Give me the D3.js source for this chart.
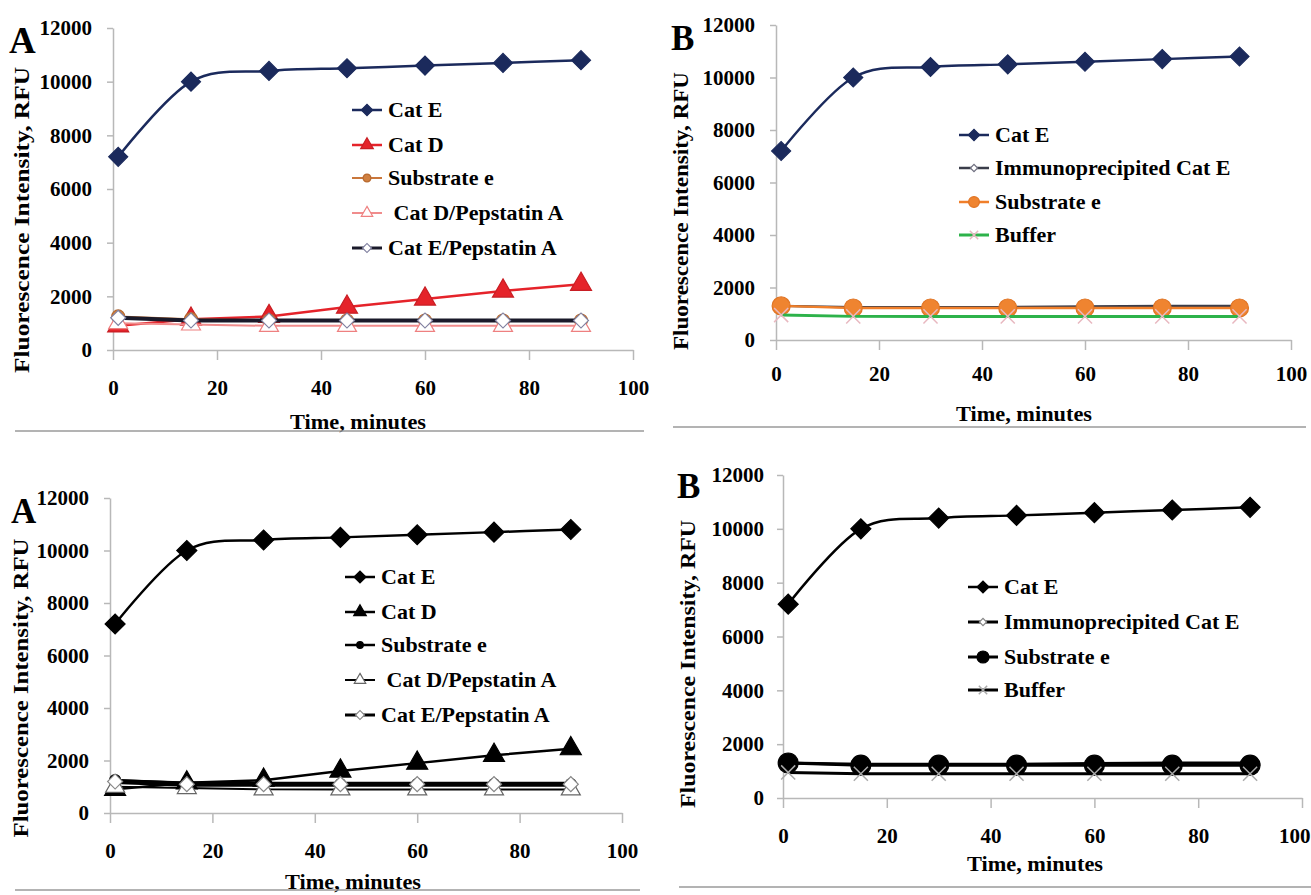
<!DOCTYPE html>
<html>
<head>
<meta charset="utf-8">
<style>
  body { margin: 0; background: #ffffff; }
  svg { display: block; font-family: "Liberation Serif", "Times New Roman", serif; font-weight: bold; }
  text { white-space: pre; }
</style>
<script src="https://d3js.org/d3.v7.min.js"></script>
</head>
<body>
<svg id="fig" width="1311" height="895"></svg>
<script>
// ---- data ----
const times = [1, 15, 30, 45, 60, 75, 90];
const xTicks = [0, 20, 40, 60, 80, 100];
const yTicks = [0, 2000, 4000, 6000, 8000, 10000, 12000];

const catE       = [7200, 10000, 10400, 10500, 10600, 10700, 10800];
const catD       = [900, 1150, 1250, 1600, 1900, 2200, 2450];
const substrateA = [1250, 1150, 1100, 1100, 1100, 1100, 1100];
const catDPep    = [1000, 950, 900, 900, 900, 900, 900];
const catEPep    = [1200, 1100, 1100, 1100, 1100, 1100, 1100];

const immunoCatE = [1300, 1250, 1250, 1250, 1280, 1300, 1300];
const substrateB = [1300, 1220, 1220, 1220, 1220, 1220, 1220];
const buffer     = [950, 900, 900, 900, 900, 900, 900];

const namesA = ["Cat E", "Cat D", "Substrate e", " Cat D/Pepstatin A", "Cat E/Pepstatin A"];
const namesB = ["Cat E", "Immunoprecipited Cat E", "Substrate e", "Buffer"];

const yTitle = "Fluorescence Intensity, RFU";
const xTitle = "Time, minutes";

let svg = d3.select("#fig");

function symbolPath(type, size) {
  if (type === "diamond") return d3.symbol(d3.symbolSquare, size * size / 2)();
  if (type === "triangle") return d3.symbol(d3.symbolTriangle, Math.sqrt(3) / 4 * size * size)();
  if (type === "circle") return d3.symbol(d3.symbolCircle, Math.PI * size * size / 4)();
  if (type === "x") return d3.symbol(d3.symbolX, size * size / 2.2)();
  return null;
}

function drawMarkers(g, s, pts, scale) {
  g.selectAll(null).data(pts).join("path")
    .attr("transform", d => `translate(${d[0]},${d[1]})` + (s.marker === "diamond" ? " rotate(45)" : ""))
    .attr("d", symbolPath(s.marker, s.size * scale))
    .attr("fill", s.marker === "x" ? "none" : s.fill)
    .attr("stroke", s.mstroke)
    .attr("stroke-width", s.marker === "x" ? 1.5 : 1.2);
}

function drawPanel(p) {
  let x = d3.scaleLinear().domain([0, 100]).range([p.x0, p.x1]);
  let y = d3.scaleLinear().domain([0, 12000]).range([p.y0, p.y1]);
  let g = svg.append("g");

  let ya = g.append("g").attr("transform", `translate(${p.x0},0)`)
    .call(d3.axisLeft(y).tickValues(yTicks).tickFormat(d3.format("d"))
      .tickSize(6).tickPadding(p.yPad).tickSizeOuter(0));
  let xa = g.append("g").attr("transform", `translate(0,${p.y0})`)
    .call(d3.axisBottom(x).tickValues(xTicks).tickSize(10).tickPadding(p.xPad).tickSizeOuter(0));
  [ya, xa].forEach(a => {
    a.attr("font-family", null).attr("font-size", 21);
    a.selectAll("path, line").attr("stroke", "#b8b8b8").attr("stroke-width", 1.5);
    a.selectAll("text").attr("fill", "#000");
  });
  // keep the last x label inside the picture
  if (p.x1 + 17 > 1311) {
    xa.selectAll(".tick").filter(d => d === 100).select("text")
      .attr("text-anchor", "end").attr("x", 1310 - p.x1);
  }

  // series
  p.series.forEach(s => {
    let line = d3.line().x((d, i) => x(times[i])).y(d => y(d));
    if (s.smooth) line.curve(d3.curveCardinal.tension(0));
    g.append("path").datum(s.values).attr("d", line)
      .attr("fill", "none").attr("stroke", s.stroke).attr("stroke-width", s.width);
    drawMarkers(g.append("g"), s, s.values.map((v, i) => [x(times[i]), y(v)]), 1);
  });

  // legend
  p.series.forEach((s, i) => {
    let ly = p.legY[i];
    g.append("line").attr("x1", p.legX).attr("x2", p.legX + 30).attr("y1", ly).attr("y2", ly)
      .attr("stroke", s.stroke).attr("stroke-width", Math.min(s.width, 3));
    drawMarkers(g.append("g"), s, [[p.legX + 15, ly]], 0.6);
    g.append("text").attr("x", p.legX + 36).attr("y", ly + 7)
      .attr("font-size", 22).text(s.name);
  });

  // titles
  g.append("text").attr("transform", `translate(${p.ytX},${p.ytY}) rotate(-90)`)
    .attr("text-anchor", "middle").attr("dy", "0.35em")
    .attr("font-size", 21).attr("textLength", p.ytLen).attr("lengthAdjust", "spacingAndGlyphs")
    .text(yTitle);
  g.append("text").attr("x", p.xtX).attr("y", p.xtY)
    .attr("text-anchor", "middle").attr("font-size", 21)
    .attr("textLength", 136).attr("lengthAdjust", "spacingAndGlyphs")
    .text(xTitle);
  g.append("text").attr("x", p.letX).attr("y", p.letY)
    .attr("font-size", p.letSize).text(p.letter);

  // separator under the panel
  g.append("line").attr("x1", p.sep[0]).attr("x2", p.sep[1]).attr("y1", p.sep[2]).attr("y2", p.sep[2])
    .attr("stroke", "#9a9a9a").attr("stroke-width", 1.5);
}

const navy = "#1b2a5c";
const seriesA = [
  {name: namesA[0], values: catE, stroke: navy, width: 2.5, smooth: true, marker: "diamond", fill: navy, mstroke: navy, size: 19},
  {name: namesA[1], values: catD, stroke: "#e5232a", width: 2.5, marker: "triangle", fill: "#e5232a", mstroke: "#c81e24", size: 21},
  {name: namesA[2], values: substrateA, stroke: "#c9773c", width: 2, marker: "circle", fill: "#d08040", mstroke: "#b86a30", size: 13},
  {name: namesA[3], values: catDPep, stroke: "#f08c8c", width: 2, marker: "triangle", fill: "#ffffff", mstroke: "#ee8080", size: 19},
  {name: namesA[4], values: catEPep, stroke: "#1a1a2a", width: 4, marker: "diamond", fill: "#ffffff", mstroke: "#8080a0", size: 15}
];
const seriesAbw = [
  {name: namesA[0], values: catE, stroke: "#000", width: 2.5, smooth: true, marker: "diamond", fill: "#000", mstroke: "#000", size: 20},
  {name: namesA[1], values: catD, stroke: "#000", width: 2.5, marker: "triangle", fill: "#000", mstroke: "#000", size: 21},
  {name: namesA[2], values: substrateA, stroke: "#000", width: 2.5, marker: "circle", fill: "#000", mstroke: "#000", size: 11},
  {name: namesA[3], values: catDPep, stroke: "#000", width: 2, marker: "triangle", fill: "#ffffff", mstroke: "#666", size: 19},
  {name: namesA[4], values: catEPep, stroke: "#000", width: 5, marker: "diamond", fill: "#ffffff", mstroke: "#888", size: 15}
];
const seriesB = [
  {name: namesB[0], values: catE, stroke: navy, width: 2.5, smooth: true, marker: "diamond", fill: navy, mstroke: navy, size: 19},
  {name: namesB[1], values: immunoCatE, stroke: "#3a3d4a", width: 2.5, marker: "diamond", fill: "#ffffff", mstroke: "#707080", size: 12},
  {name: namesB[2], values: substrateB, stroke: "#f07f2a", width: 2.5, marker: "circle", fill: "#ef8430", mstroke: "#e07424", size: 18},
  {name: namesB[3], values: buffer, stroke: "#2db24a", width: 3, marker: "x", fill: "none", mstroke: "#e8b8c0", size: 17}
];
const seriesBbw = [
  {name: namesB[0], values: catE, stroke: "#000", width: 2.5, smooth: true, marker: "diamond", fill: "#000", mstroke: "#000", size: 20},
  {name: namesB[1], values: immunoCatE, stroke: "#000", width: 3, marker: "diamond", fill: "#ffffff", mstroke: "#888", size: 12},
  {name: namesB[2], values: substrateB, stroke: "#000", width: 3, marker: "circle", fill: "#000", mstroke: "#000", size: 20},
  {name: namesB[3], values: buffer, stroke: "#000", width: 3, marker: "x", fill: "none", mstroke: "#aaa", size: 17}
];

const panels = [
  {letter: "A", letX: 9, letY: 53, letSize: 37, x0: 113, x1: 633, y0: 350, y1: 28, yPad: 15, xPad: 20,
   series: seriesA, legX: 352, legY: [110, 145, 178, 213, 248],
   ytX: 22, ytY: 220, ytLen: 306, xtX: 358, xtY: 429, sep: [15, 644, 431]},
  {letter: "B", letX: 671, letY: 50, letSize: 35, x0: 776, x1: 1291, y0: 340, y1: 25, yPad: 15, xPad: 16,
   series: seriesB, legX: 959, legY: [135, 168, 202, 235],
   ytX: 681, ytY: 211, ytLen: 278, xtX: 1024, xtY: 421, sep: [673, 1306, 427]},
  {letter: "A", letX: 11, letY: 523, letSize: 35, x0: 110, x1: 622, y0: 813, y1: 498, yPad: 15, xPad: 20,
   series: seriesAbw, legX: 345, legY: [577, 612, 645, 680, 715],
   ytX: 21, ytY: 688, ytLen: 299, xtX: 353, xtY: 889, sep: [15, 640, 890]},
  {letter: "B", letX: 677, letY: 498, letSize: 35, x0: 783, x1: 1302, y0: 798, y1: 475, yPad: 13, xPad: 20,
   series: seriesBbw, legX: 968, legY: [587, 622, 657, 690],
   ytX: 688, ytY: 664, ytLen: 288, xtX: 1035, xtY: 871, sep: [679, 1311, 887]}
];

panels.forEach(drawPanel);
</script>
</body>
</html>
